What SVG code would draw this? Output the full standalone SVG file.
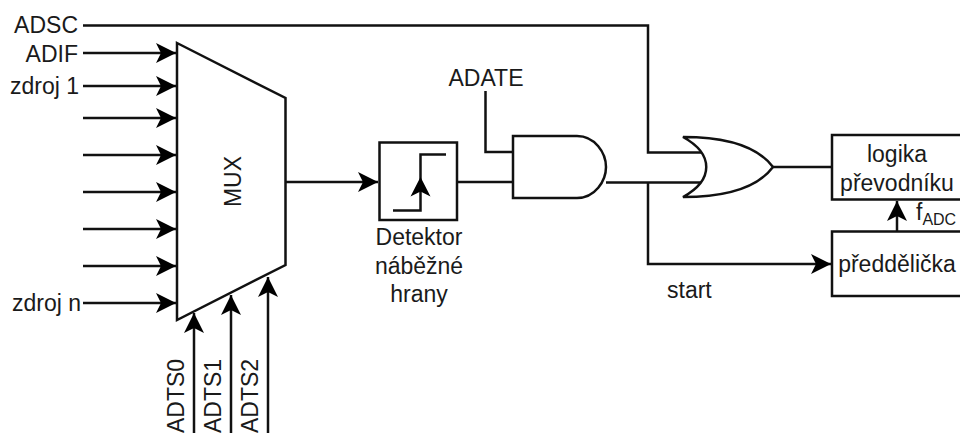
<svg xmlns="http://www.w3.org/2000/svg" width="960" height="433" viewBox="0 0 960 433">
<style>
text{font-family:"Liberation Sans",Arial,sans-serif;font-size:23px;fill:#1a1a1a}
.m{text-anchor:middle}
.e{text-anchor:end}
.s{fill:#fff;stroke:#111;stroke-width:2.5}
.c{fill:none;stroke:#111;stroke-width:2.5}
.a{fill:none;stroke:#111;stroke-width:2.5;marker-end:url(#ah)}
</style>
<defs>
<marker id="ah" markerUnits="userSpaceOnUse" markerWidth="22" markerHeight="22" refX="20" refY="10" orient="auto" viewBox="0 0 22 20">
<path d="M0 0L20 10L0 20L5 10Z" fill="#000"/>
</marker>
</defs>
<rect width="960" height="433" fill="#fff"/>
<g id="connectors">
<path class="c" d="M83 25.500H648V152.500H704"/>
<path class="a" d="M83 53H176"/>
<path class="a" d="M83 86H176"/>
<path class="a" d="M83 118H176"/>
<path class="a" d="M83 155H176"/>
<path class="a" d="M83 192H176"/>
<path class="a" d="M83 229H176"/>
<path class="a" d="M83 266H176"/>
<path class="a" d="M83 303H176"/>
<path class="a" d="M194 433V313"/>
<path class="a" d="M231 433V295"/>
<path class="a" d="M268 433V277"/>
<path class="a" d="M286 182H378"/>
<path class="c" d="M457 182H513"/>
<path class="c" d="M485.500 91V152H513"/>
<path class="c" d="M606 182.500H704"/>
<path class="a" d="M648 182.500V264H831"/>
<path class="c" d="M773 167H832"/>
<path class="a" d="M897 231V201"/>
</g>
<g id="mux">
<path class="s" d="M177 43L285.500 98V265L177 320Z"/>
<text class="m" transform="translate(241 181.500) rotate(-90)">MUX</text>
</g>
<g id="detector">
<rect class="s" x="379.500" y="142.500" width="77.500" height="77.500"/>
<path class="c" d="M393 210.500H420.500V154.500H446"/>
<path d="M410.500 196.500L420.500 177L430.500 196.500L420.500 191.500Z" fill="#000"/>
<text class="m" x="419" y="245">Detektor</text>
<text class="m" x="419" y="274">náběžné</text>
<text class="m" x="419" y="302">hrany</text>
</g>
<g id="and">
<path class="s" d="M513 136H577C595 136 606 153 606 167C606 181 595 198 577 198H513Z"/>
</g>
<g id="or">
<path class="s" d="M683 137C730 137 758 147 773 167C758 187 730 197 683 197C714 180 714 154 683 137Z"/>
</g>
<g id="logika">
<rect class="s" x="832" y="135" width="135" height="64.500"/>
<text class="m" x="897" y="162">logika</text>
<text class="m" x="897" y="191">převodníku</text>
</g>
<g id="preddelicka">
<rect class="s" x="832" y="231.500" width="135" height="64.500"/>
<text class="m" x="897" y="272">předdělička</text>
</g>
<g id="labels">
<text class="e" x="78" y="33">ADSC</text>
<text class="e" x="78" y="62">ADIF</text>
<text class="e" x="79" y="94">zdroj 1</text>
<text class="e" x="81" y="311">zdroj n</text>
<text class="m" x="486" y="86">ADATE</text>
<text x="667" y="298">start</text>
<text x="916" y="220">f<tspan font-size="16" dy="5">ADC</tspan></text>
<text transform="translate(184 433) rotate(-90)">ADTS0</text>
<text transform="translate(221 433) rotate(-90)">ADTS1</text>
<text transform="translate(258 433) rotate(-90)">ADTS2</text>
</g>
</svg>
